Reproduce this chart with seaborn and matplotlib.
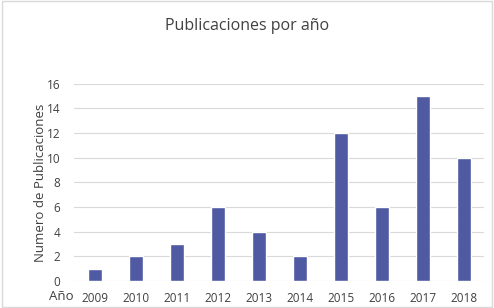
import pandas as pd
import seaborn as sns
import matplotlib.pyplot as plt

# publications per year
years = ["2009", "2010", "2011", "2012", "2013", "2014", "2015", "2016", "2017", "2018"]
counts = [1, 2, 3, 6, 4, 2, 12, 6, 15, 10]

df = pd.DataFrame({"Año": years, "Publicaciones": counts})

sns.set_style("white")
plt.rcParams["font.family"] = ["Open Sans", "DejaVu Sans"]

fig = plt.figure(figsize=(4.94, 3.08), dpi=100)
ax = fig.add_axes([0.150, 0.088, 0.830, 0.640])

sns.barplot(data=df, x="Año", y="Publicaciones", color="#4F5AA2", width=0.34, ax=ax, saturation=1)

ax.set_ylim(0, 16)
ax.set_yticks(range(0, 17, 2))
ax.yaxis.grid(True, color="#D9D9D9", linewidth=0.8)
ax.set_axisbelow(True)
for s in ax.spines.values():
    s.set_visible(False)
ax.tick_params(axis="x", length=0, labelsize=8.5, colors="#404040", pad=8)
ax.tick_params(axis="y", length=0, labelsize=8.5, colors="#404040", pad=10)
ax.set_xlabel("")
ax.set_ylabel("Numero de Publicaciones", fontsize=9.5, color="#404040")
ax.yaxis.set_label_coords(-0.065, 0.5)

fig.text(0.124, 0.038, "Año", fontsize=9.5, color="#404040", ha="center", va="center")
fig.text(0.5, 0.915, "Publicaciones por año", fontsize=11.5, color="#404040", ha="center", va="center")

# chart border
fig.patches.append(plt.Rectangle((0.004, 0.004), 0.992, 0.992, transform=fig.transFigure,
                                 fill=False, edgecolor="#D9D9D9", linewidth=1))

fig.savefig("out.png", dpi=100)
